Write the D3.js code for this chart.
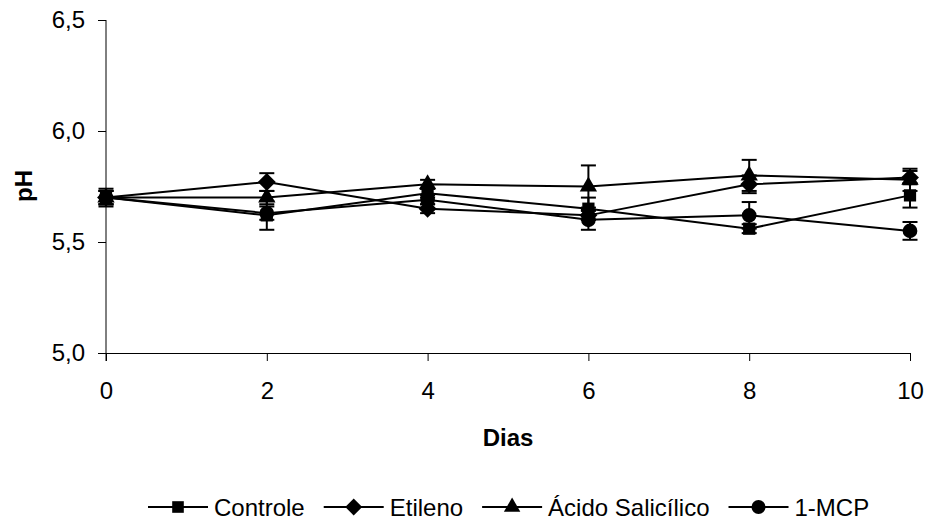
<!DOCTYPE html>
<html>
<head>
<meta charset="utf-8">
<script src="https://cdn.jsdelivr.net/npm/d3@7"></script>
<style>
  html, body { margin: 0; padding: 0; background: #fff; }
  svg { display: block; font-family: "Liberation Sans", Arial, sans-serif; }
</style>
</head>
<body>
<svg id="chart" width="928" height="520"></svg>
<script>
// pH over storage days for four treatments (mean ± error)
const days = [0, 2, 4, 6, 8, 10];
const seriesNames = ["Controle", "Etileno", "Ácido Salicílico", "1-MCP"];
const controle = [5.70, 5.62, 5.72, 5.65, 5.56, 5.71];
const etileno = [5.70, 5.77, 5.65, 5.62, 5.76, 5.79];
const acido = [5.70, 5.70, 5.76, 5.75, 5.80, 5.78];
const mcp = [5.70, 5.63, 5.69, 5.60, 5.62, 5.55];
const controleErr = [0.04, 0.065, 0.02, 0.05, 0.02, 0.055];
const etilenoErr = [0.03, 0.04, 0.02, 0.02, 0.04, 0.03];
const acidoErr = [0.03, 0.03, 0.02, 0.095, 0.07, 0.05];
const mcpErr = [0.03, 0.03, 0.02, 0.045, 0.06, 0.04];
const yTicks = [5.0, 5.5, 6.0, 6.5];
const xTicks = [0, 2, 4, 6, 8, 10];

// diamond drawn as a square turned 45 degrees
const symbolRhombus = {
  draw(context, size) {
    const r = Math.sqrt(size / 2);
    context.moveTo(0, -r);
    context.lineTo(r, 0);
    context.lineTo(0, r);
    context.lineTo(-r, 0);
    context.closePath();
  }
};

const series = [
  { name: seriesNames[0], values: controle, err: controleErr, symbol: d3.symbolSquare, size: 150 },
  { name: seriesNames[1], values: etileno, err: etilenoErr, symbol: symbolRhombus, size: 160 },
  { name: seriesNames[2], values: acido, err: acidoErr, symbol: d3.symbolTriangle, size: 130 },
  { name: seriesNames[3], values: mcp, err: mcpErr, symbol: d3.symbolCircle, size: 170 }
];

const svg = d3.select("#chart");
const x = d3.scaleLinear().domain([0, 10]).range([106, 910]);
const y = d3.scaleLinear().domain([5.0, 6.5]).range([353, 20]);
const fmt = v => d3.format(".1f")(v).replace(".", ",");
const FONT = "'Liberation Sans', Arial, sans-serif";

// y axis
const yAxis = svg.append("g")
  .attr("transform", `translate(${x(0)},0)`)
  .call(d3.axisLeft(y).tickValues(yTicks).tickFormat(fmt).tickSize(8).tickPadding(13).tickSizeOuter(0));
yAxis.select(".domain").attr("d", `M0,${y(6.5)}V${y(5.0) + 8}`);

// x axis
svg.append("g")
  .attr("transform", `translate(0,${y(5.0)})`)
  .call(d3.axisBottom(x).tickValues(xTicks).tickFormat(d3.format("d")).tickSize(8).tickPadding(21).tickSizeOuter(0));

svg.selectAll(".tick text").attr("font-size", 24).attr("fill", "#000").attr("font-family", FONT);
svg.selectAll(".domain, .tick line").attr("stroke", "#000").attr("stroke-width", 1);

// axis titles
svg.append("text")
  .attr("transform", `translate(32,${186}) rotate(-90)`)
  .attr("text-anchor", "middle")
  .attr("font-size", 24).attr("font-weight", "bold").attr("font-family", FONT)
  .text("pH");
svg.append("text")
  .attr("x", (x(0) + x(10)) / 2).attr("y", 446)
  .attr("text-anchor", "middle")
  .attr("font-size", 24).attr("font-weight", "bold").attr("font-family", FONT)
  .text("Dias");

const line = d3.line().x((d, i) => x(days[i])).y(d => y(d));
const plot = svg.append("g");

series.forEach(s => {
  plot.append("path")
    .attr("d", line(s.values))
    .attr("fill", "none").attr("stroke", "#000").attr("stroke-width", 2);
});

// error bars
series.forEach(s => {
  const g = plot.append("g");
  s.values.forEach((v, i) => {
    const cx = x(days[i]);
    const y1 = y(v + s.err[i]), y2 = y(v - s.err[i]);
    g.append("line").attr("x1", cx).attr("x2", cx).attr("y1", y1).attr("y2", y2)
      .attr("stroke", "#000").attr("stroke-width", 2);
    [y1, y2].forEach(cy => g.append("line")
      .attr("x1", cx - 7.5).attr("x2", cx + 7.5).attr("y1", cy).attr("y2", cy)
      .attr("stroke", "#000").attr("stroke-width", 2));
  });
});

// markers
series.forEach(s => {
  plot.append("g").selectAll("path")
    .data(s.values)
    .join("path")
    .attr("transform", (d, i) => `translate(${x(days[i])},${y(d)})`)
    .attr("d", d3.symbol().type(s.symbol).size(s.size))
    .attr("fill", "#000");
});

// legend, laid out left to right from the measured label widths
const legendY = 507;
const lineLen = 60, textGap = 6, itemGap = 19;
const legend = svg.append("g");
let lx = 148;
series.forEach(s => {
  legend.append("line").attr("x1", lx).attr("x2", lx + lineLen).attr("y1", legendY).attr("y2", legendY)
    .attr("stroke", "#000").attr("stroke-width", 2);
  legend.append("path")
    .attr("transform", `translate(${lx + lineLen / 2},${legendY})`)
    .attr("d", d3.symbol().type(s.symbol).size(s.size * 0.9))
    .attr("fill", "#000");
  const t = legend.append("text")
    .attr("x", lx + lineLen + textGap).attr("y", legendY + 8.5)
    .attr("font-size", 24).attr("font-family", FONT)
    .text(s.name);
  lx += lineLen + textGap + t.node().getComputedTextLength() + itemGap;
});
</script>
</body>
</html>
